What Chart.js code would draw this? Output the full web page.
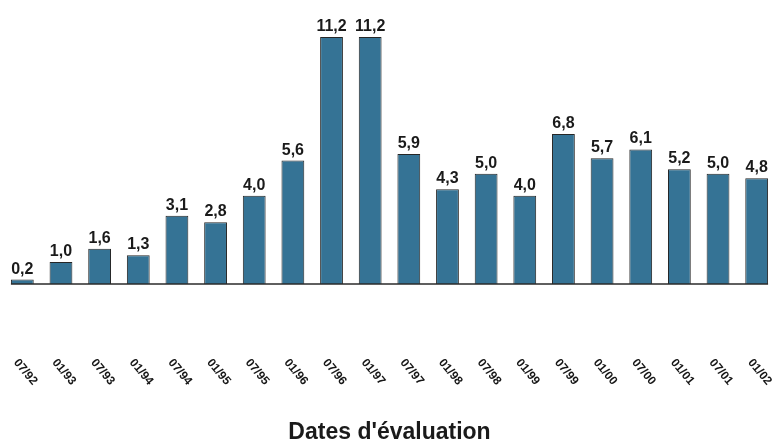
<!DOCTYPE html>
<html>
<head>
<meta charset="utf-8">
<title>Dates d'évaluation</title>
<script src="https://cdn.jsdelivr.net/npm/chart.js@4/dist/chart.umd.min.js"></script>
<style>
  html, body { margin: 0; padding: 0; background: #ffffff; }
  #wrap { width: 777px; height: 444px; }
</style>
</head>
<body>
<div id="wrap"><canvas id="chart" width="777" height="444"></canvas></div>
<script>
// Evaluation dates (month/year) and the measured value at each one
const dates = ['07/92', '01/93', '07/93', '01/94', '07/94', '01/95', '07/95', '01/96', '07/96', '01/97',
               '07/97', '01/98', '07/98', '01/99', '07/99', '01/00', '07/00', '01/01', '07/01', '01/02'];
const values = [0.2, 1.0, 1.6, 1.3, 3.1, 2.8, 4.0, 5.6, 11.2, 11.2,
                5.9, 4.3, 5.0, 4.0, 6.8, 5.7, 6.1, 5.2, 5.0, 4.8];
const axisTitle = "Dates d'évaluation";

const FONT = '"Liberation Sans", Arial, Helvetica, sans-serif';
const fmt = v => v.toFixed(1).replace('.', ',');

// Value labels above bars, slanted date labels and the baseline
const decorations = {
  id: 'decorations',
  afterDatasetsDraw(chart) {
    const ctx = chart.ctx;
    const xs = chart.scales.x, ys = chart.scales.y;
    const bars = chart.getDatasetMeta(0).data;
    const y0 = ys.getPixelForValue(0);

    // baseline from the first bar edge to the last bar edge
    const first = bars[0], last = bars[bars.length - 1];
    ctx.save();
    ctx.strokeStyle = '#2a2a2a';
    ctx.lineWidth = 1.5;
    ctx.beginPath();
    ctx.moveTo(first.x - first.width / 2, y0);
    ctx.lineTo(last.x + last.width / 2, y0);
    ctx.stroke();

    // value labels
    ctx.fillStyle = '#1a1a1a';
    ctx.font = 'bold 16px ' + FONT;
    ctx.textAlign = 'center';
    ctx.textBaseline = 'alphabetic';
    values.forEach((v, i) => {
      const x = xs.getPixelForValue(i);
      const y = ys.getPixelForValue(v);
      ctx.fillText(fmt(v), x, y - 6);
    });

    // date labels, slanted downward to the right
    ctx.fillStyle = '#161616';
    ctx.font = 'bold 12px ' + FONT;
    ctx.textBaseline = 'middle';
    dates.forEach((d, i) => {
      const x = xs.getPixelForValue(i) + 3;
      ctx.save();
      ctx.translate(x, 372);
      ctx.rotate(50 * Math.PI / 180);
      ctx.fillText(d, 0, 0);
      ctx.restore();
    });
    ctx.restore();
  }
};

new Chart(document.getElementById('chart'), {
  type: 'bar',
  data: {
    labels: dates,
    datasets: [{
      data: values,
      backgroundColor: '#357395',
      borderColor: '#262626',
      borderWidth: 1,
      barPercentage: 0.59,
      categoryPercentage: 1.0
    }]
  },
  options: {
    responsive: false,
    animation: false,
    layout: { padding: { left: 3, right: 1, top: 19.4, bottom: 0 } },
    plugins: {
      legend: { display: false },
      tooltip: { enabled: false },
      title: {
        display: true,
        text: axisTitle,
        position: 'bottom',
        color: '#1a1a1a',
        font: { family: FONT, size: 23, weight: 'bold', lineHeight: 1 },
        padding: { top: 137, bottom: 0 }
      }
    },
    scales: {
      x: { display: false },
      y: { display: false, min: 0, max: 12 }
    }
  },
  plugins: [decorations]
});
</script>
</body>
</html>
